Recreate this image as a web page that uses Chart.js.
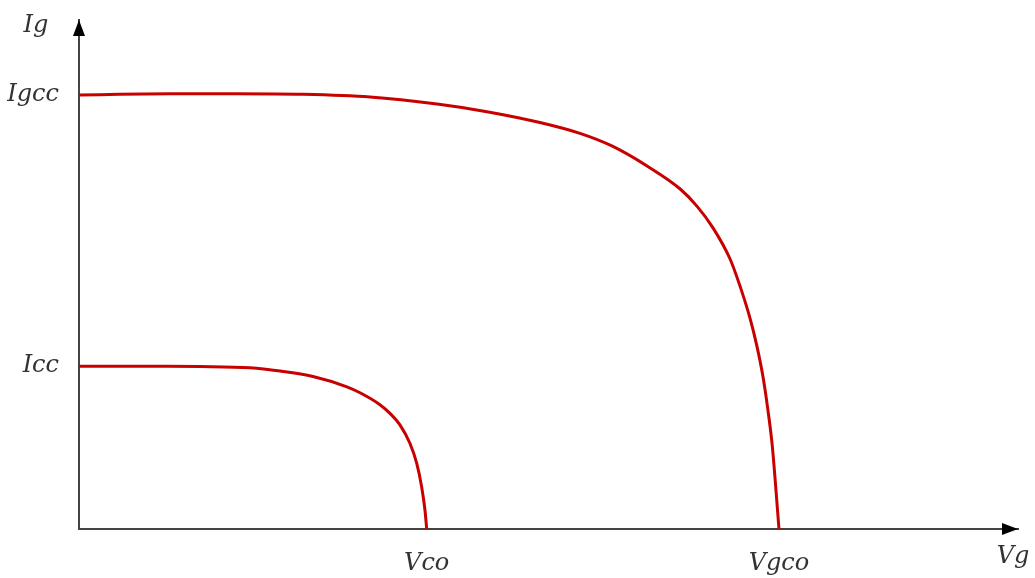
<!DOCTYPE html>
<html>
<head>
<meta charset="utf-8">
<script src="https://cdn.jsdelivr.net/npm/chart.js@4"></script>
<style>
    body { margin: 0; background: #fff; }
    #wrap { width: 1035px; height: 578px; position: relative; }
</style>
</head>
<body>
<div id="wrap"><canvas id="ivChart"></canvas></div>
<script>
// characteristic points (Vg, Ig)
const igccCurveV = [0, 5.2, 9.03, 12.8, 16.63, 20.46, 23.31, 26.34, 28.63, 30.51, 32.46, 34.34, 35.31, 36.23, 37.2, 37.77, 38.34, 38.74, 39.09, 39.37, 39.6, 39.77, 40];
const igccCurveI = [8.0, 8.02, 8.02, 8.01, 7.96, 7.83, 7.69, 7.49, 7.29, 7.05, 6.69, 6.27, 5.95, 5.55, 4.98, 4.48, 3.89, 3.37, 2.8, 2.19, 1.59, 0.96, 0];
const iccCurveV = [0, 5.03, 6.91, 9.77, 11.49, 13.37, 15.31, 16.06, 17.2, 17.77, 18.34, 18.91, 19.3, 19.58, 19.77, 19.87];
const iccCurveI = [3.0, 3.0, 2.995, 2.97, 2.91, 2.81, 2.62, 2.51, 2.29, 2.13, 1.92, 1.58, 1.21, 0.78, 0.35, 0];

// tick labels
const xTickVals = [19.87, 40];
const xTickNames = ['Vco', 'Vgco'];
const yTickVals = [3, 8];
const yTickNames = ['Icc', 'Igcc'];

const xMax = 53.66;
const yMax = 9.38;

function toPoints(xs, ys) {
    return xs.map((x, i) => ({ x: x, y: ys[i] }));
}

const labelFont = { family: 'DejaVu Serif', style: 'italic', size: 24 };

//draw arrowheads and the two axis names
const axisArrows = {
    id: 'axisArrows',
    afterDraw(chart) {
        const ctx = chart.ctx;
        const a = chart.chartArea;
        ctx.save();
        ctx.fillStyle = '#000';
        // up arrow
        ctx.beginPath();
        ctx.moveTo(a.left, a.top);
        ctx.lineTo(a.left - 6, a.top + 16);
        ctx.lineTo(a.left + 6, a.top + 16);
        ctx.closePath();
        ctx.fill();
        // right arrow
        ctx.beginPath();
        ctx.moveTo(a.right, a.bottom);
        ctx.lineTo(a.right - 16, a.bottom - 6);
        ctx.lineTo(a.right - 16, a.bottom + 6);
        ctx.closePath();
        ctx.fill();

        ctx.font = 'italic 24px "DejaVu Serif"';
        ctx.fillStyle = '#333';
        ctx.textAlign = 'center';
        ctx.textBaseline = 'alphabetic';
        ctx.fillText('Ig', 36, 32);
        ctx.fillText('Vg', 1013, 563);
        ctx.restore();
    }
};

const ctx = document.getElementById('ivChart').getContext('2d');
const ivChart = new Chart(ctx, {
    type: 'scatter',
    data: {
        datasets: [{
            label: 'Igcc curve',
            data: toPoints(igccCurveV, igccCurveI),
            showLine: true,
            borderColor: '#c80000',
            borderWidth: 3,
            pointRadius: 0,
            cubicInterpolationMode: 'monotone'
        }, {
            label: 'Icc curve',
            data: toPoints(iccCurveV, iccCurveI),
            showLine: true,
            borderColor: '#c80000',
            borderWidth: 3,
            pointRadius: 0,
            cubicInterpolationMode: 'monotone'
        }]
    },
    options: {
        responsive: true,
        maintainAspectRatio: false,
        animation: false,
        layout: { padding: { top: 20, right: 17, left: 0, bottom: 0 } },
        plugins: {
            legend: { display: false },
            tooltip: { enabled: false }
        },
        scales: {
            x: {
                type: 'linear',
                min: 0,
                max: xMax,
                grid: { display: false },
                border: { display: true, color: '#444', width: 2 },
                afterBuildTicks: scale => {
                    scale.ticks = xTickVals.map(v => ({ value: v }));
                },
                afterFit: scale => {
                    scale.height = 49;
                    scale.paddingLeft = 0;
                    scale.paddingRight = 0;
                },
                ticks: {
                    padding: 12,
                    color: '#333',
                    font: labelFont,
                    maxRotation: 0,
                    autoSkip: false,
                    callback: value => xTickNames[xTickVals.indexOf(value)]
                }
            },
            y: {
                type: 'linear',
                min: 0,
                max: yMax,
                grid: { display: false },
                border: { display: true, color: '#444', width: 2 },
                afterBuildTicks: scale => {
                    scale.ticks = yTickVals.map(v => ({ value: v }));
                },
                afterFit: scale => {
                    scale.width = 79;
                    scale.paddingTop = 0;
                    scale.paddingBottom = 0;
                },
                ticks: {
                    padding: 12,
                    color: '#333',
                    font: labelFont,
                    autoSkip: false,
                    callback: value => yTickNames[yTickVals.indexOf(value)]
                }
            }
        }
    },
    plugins: [axisArrows]
});
</script>
</body>
</html>
